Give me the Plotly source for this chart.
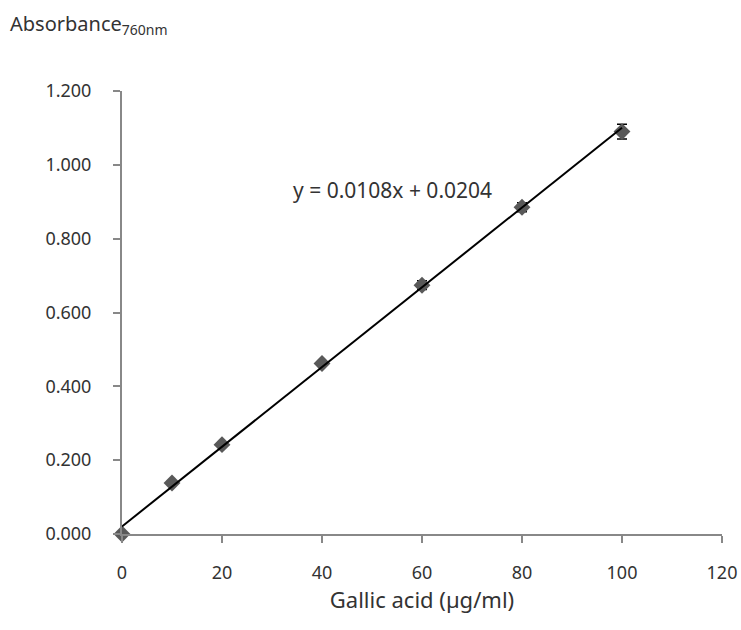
import plotly.graph_objects as go

conc = [0, 10, 20, 40, 60, 80, 100]
absorb = [0.000, 0.138, 0.242, 0.462, 0.674, 0.885, 1.090]
err = [0.0, 0.004, 0.004, 0.005, 0.012, 0.012, 0.020]
slope = 0.0108
intercept = 0.0204
x_ticks = [0, 20, 40, 60, 80, 100, 120]
y_ticks = [0.0, 0.2, 0.4, 0.6, 0.8, 1.0, 1.2]

fit_x = [min(conc), max(conc)]
fit_y = [slope * v + intercept for v in fit_x]

font = "Noto Sans, Open Sans, sans-serif"
fig = go.Figure()
fig.add_trace(go.Scatter(
    x=conc, y=absorb, mode="markers",
    marker=dict(symbol="diamond", size=13, color="#595959"),
    error_y=dict(type="data", array=err, visible=True, color="#000000",
                 thickness=1.5, width=5),
    cliponaxis=False, showlegend=False))
fig.add_trace(go.Scatter(
    x=fit_x, y=fit_y, mode="lines",
    line=dict(color="#000000", width=2),
    cliponaxis=False, showlegend=False))

L, R, T, B = 122, 19, 91, 96
fig.update_layout(
    width=741, height=630,
    margin=dict(l=L, r=R, t=T, b=B, autoexpand=False),
    paper_bgcolor="white", plot_bgcolor="white",
    font=dict(family=font, size=18, color="#333333"),
    xaxis=dict(range=[0, 120], tickvals=x_ticks, ticktext=[str(v) for v in x_ticks],
               showgrid=False, zeroline=False, showline=True,
               linecolor="#888888", linewidth=2, ticks="outside",
               tickcolor="#888888", ticklen=7, tickwidth=2,
               ticklabelstandoff=14, ticklabeloverflow="allow", automargin=False,
               tickfont=dict(size=18, color="#333333"),
               title=dict(text="Gallic acid (µg/ml)", font=dict(size=22, color="#333333"),
                          standoff=3)),
    yaxis=dict(range=[0, 1.2], tickvals=y_ticks, ticktext=[f"{v:.3f}" for v in y_ticks],
               showgrid=False, zeroline=False, showline=True,
               linecolor="#888888", linewidth=2, ticks="outside",
               tickcolor="#888888", ticklen=7, tickwidth=2,
               ticklabelstandoff=18, automargin=False,
               tickfont=dict(size=18, color="#333333")),
    annotations=[
        dict(text="y = 0.0108x + 0.0204", x=54, y=0.932, xref="x", yref="y",
             showarrow=False, font=dict(size=21, color="#333333")),
        dict(text="Absorbance<sub>760nm</sub>", x=0, y=1, xref="paper", yref="paper",
             showarrow=False, font=dict(size=20, color="#333333"),
             xanchor="left", yanchor="middle"),
    ],
)
plot_w = 741 - L - R
plot_h = 630 - T - B
fig.layout.annotations[1].x = (8 - L) / plot_w
fig.layout.annotations[1].y = 1 + (T - 24) / plot_h

fig.write_html("out.html")
